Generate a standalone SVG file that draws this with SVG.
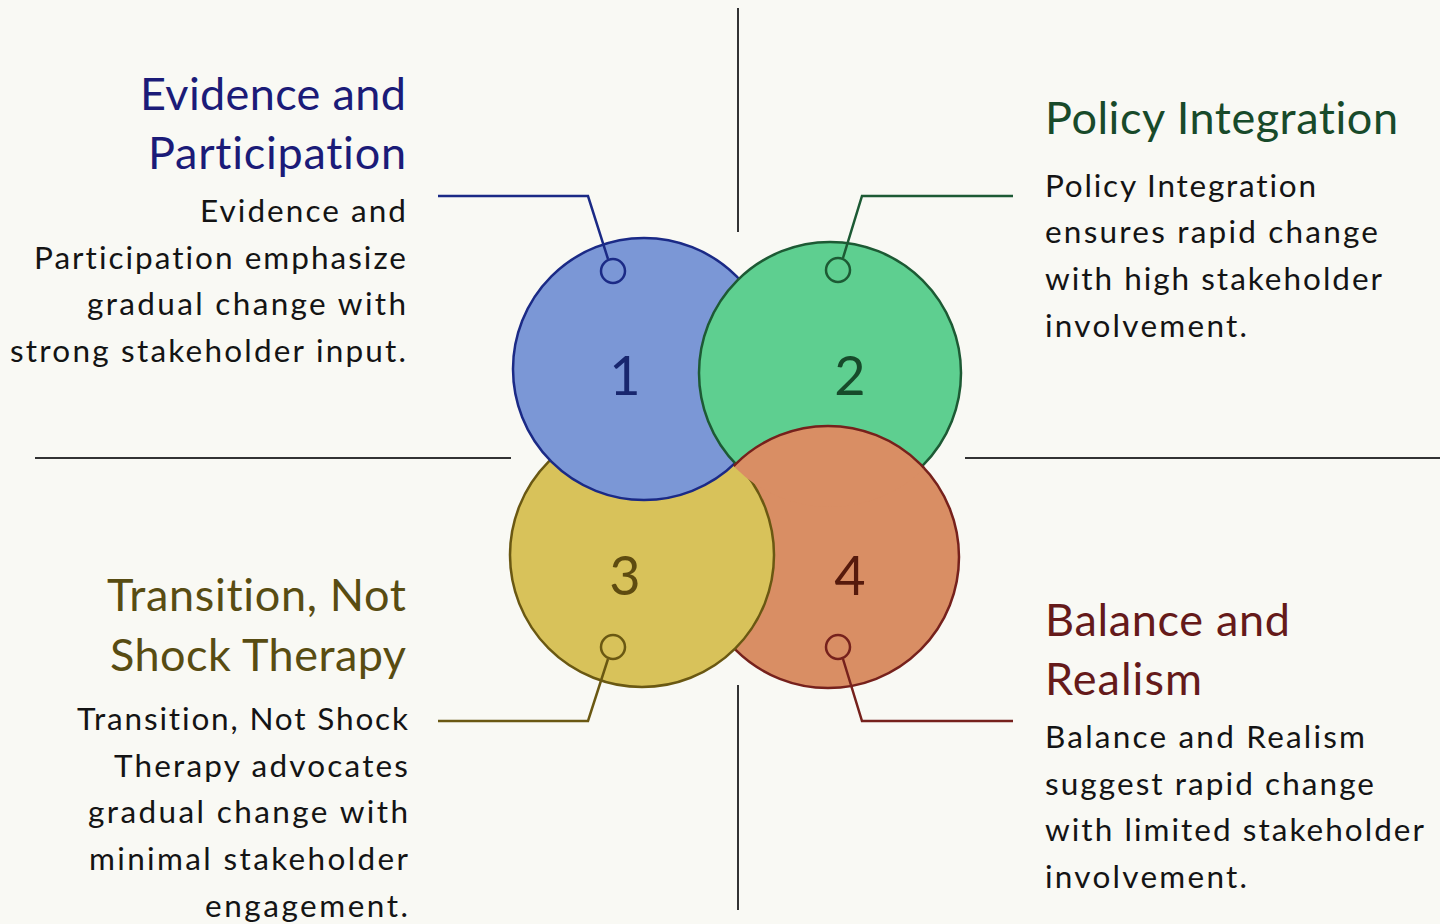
<svg xmlns="http://www.w3.org/2000/svg" width="1440" height="924" viewBox="0 0 1440 924">
<style>
text{font-variant-ligatures:none;font-feature-settings:"liga" 0}
.h{font-family:Lato,"Liberation Sans",sans-serif;font-size:45px}
.b{font-family:Lato,"Liberation Sans",sans-serif;font-size:31.5px;fill:#141414}
.n{font-family:Lato,"Liberation Sans",sans-serif;font-size:54px;text-anchor:middle}
.r{text-anchor:end}
.div{stroke:#333;stroke-width:2;fill:none}
.c1{fill:#7b97d6;stroke:#1b2a86;stroke-width:2.5}
.c2{fill:#5ecf90;stroke:#1d5a34;stroke-width:2.5}
.c3{fill:#d8c25a;stroke:#6a5812;stroke-width:2.5}
.c4{fill:#d98e64;stroke:#76211c;stroke-width:2.5}
.k{fill:none;stroke-width:2.5}
</style>
<defs>
<clipPath id="clip2"><circle cx="830" cy="373" r="134"/></clipPath>
</defs>
<rect width="1440" height="924" fill="#f9f9f4"/>
<g id="dividers">
<line class="div" x1="738" y1="8" x2="738" y2="232"/>
<line class="div" x1="738" y1="685" x2="738" y2="910"/>
<line class="div" x1="35" y1="458" x2="511" y2="458"/>
<line class="div" x1="965" y1="458" x2="1440" y2="458"/>
</g>
<g id="circles">
<circle id="circle4" class="c4" cx="828" cy="557" r="131"/>
<circle id="circle3" class="c3" cx="642" cy="555" r="132"/>
<circle id="circle1" class="c1" cx="644" cy="369" r="131"/>
<circle id="circle2" class="c2" cx="830" cy="373" r="131"/>
<circle class="c4" cx="828" cy="557" r="131" clip-path="url(#clip2)"/>
</g>
<g id="connectors">
<polyline class="k" stroke="#1b2a86" points="438,196 588,196 608,259"/>
<circle class="k" stroke="#1b2a86" cx="613" cy="271" r="12"/>
<polyline class="k" stroke="#1d5a34" points="1013,196 862,196 843,258"/>
<circle class="k" stroke="#1d5a34" cx="838" cy="270" r="12"/>
<polyline class="k" stroke="#6a5812" points="438,721 588,721 608,659"/>
<circle class="k" stroke="#6a5812" cx="613" cy="647" r="12"/>
<polyline class="k" stroke="#76211c" points="1013,721 862,721 843,659"/>
<circle class="k" stroke="#76211c" cx="838" cy="647" r="12"/>
</g>
<g id="numbers">
<text class="n" x="625" y="395" fill="#18266e">1</text>
<text class="n" x="850" y="395" fill="#174a2a">2</text>
<text class="n" x="625" y="595" fill="#5e4b10">3</text>
<text class="n" x="850" y="595" fill="#561a0c">4</text>
</g>
<g id="node1">
<text class="h r" x="406" y="110" fill="#1b1b78" textLength="266" lengthAdjust="spacing">Evidence and</text>
<text class="h r" x="406" y="169" fill="#1b1b78" textLength="258" lengthAdjust="spacing">Participation</text>
<text class="b r" x="406" y="222" textLength="206" lengthAdjust="spacing">Evidence and</text>
<text class="b r" x="406" y="269" textLength="372" lengthAdjust="spacing">Participation emphasize</text>
<text class="b r" x="406" y="315" textLength="319" lengthAdjust="spacing">gradual change with</text>
<text class="b r" x="406" y="362" textLength="396" lengthAdjust="spacing">strong stakeholder input.</text>
</g>
<g id="node2">
<text class="h" x="1045" y="134" fill="#184a2a" textLength="353" lengthAdjust="spacing">Policy Integration</text>
<text class="b" x="1045" y="197" textLength="271" lengthAdjust="spacing">Policy Integration</text>
<text class="b" x="1045" y="243" textLength="333" lengthAdjust="spacing">ensures rapid change</text>
<text class="b" x="1045" y="290" textLength="337" lengthAdjust="spacing">with high stakeholder</text>
<text class="b" x="1045" y="337" textLength="202" lengthAdjust="spacing">involvement.</text>
</g>
<g id="node3">
<text class="h r" x="406" y="611" fill="#584c12" textLength="299" lengthAdjust="spacing">Transition, Not</text>
<text class="h r" x="406" y="671" fill="#584c12" textLength="296" lengthAdjust="spacing">Shock Therapy</text>
<text class="b r" x="408" y="730" textLength="331" lengthAdjust="spacing">Transition, Not Shock</text>
<text class="b r" x="408" y="777" textLength="294" lengthAdjust="spacing">Therapy advocates</text>
<text class="b r" x="408" y="823" textLength="320" lengthAdjust="spacing">gradual change with</text>
<text class="b r" x="408" y="870" textLength="319" lengthAdjust="spacing">minimal stakeholder</text>
<text class="b r" x="408" y="917" textLength="203" lengthAdjust="spacing">engagement.</text>
</g>
<g id="node4">
<text class="h" x="1045" y="636" fill="#651a1a" textLength="245" lengthAdjust="spacing">Balance and</text>
<text class="h" x="1045" y="695" fill="#651a1a" textLength="157" lengthAdjust="spacing">Realism</text>
<text class="b" x="1045" y="748" textLength="320" lengthAdjust="spacing">Balance and Realism</text>
<text class="b" x="1045" y="795" textLength="329" lengthAdjust="spacing">suggest rapid change</text>
<text class="b" x="1045" y="841" textLength="379" lengthAdjust="spacing">with limited stakeholder</text>
<text class="b" x="1045" y="888" textLength="202" lengthAdjust="spacing">involvement.</text>
</g>
</svg>
